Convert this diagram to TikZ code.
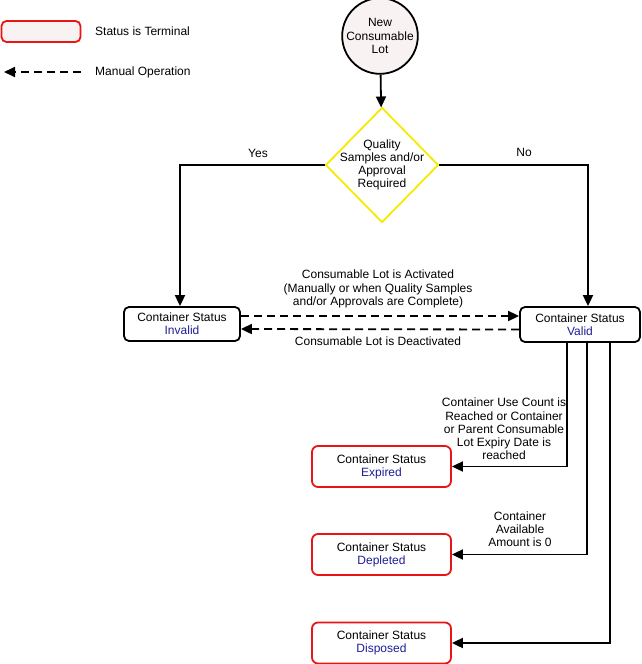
\documentclass[tikz,border=0pt]{standalone}
\usepackage{fontspec}
\setmainfont{Liberation Sans}
\usetikzlibrary{shapes.geometric,arrows.meta,calc}
\definecolor{termfill}{RGB}{248,242,242}
\definecolor{statblue}{RGB}{30,30,150}
\definecolor{diayellow}{RGB}{245,235,0}
\definecolor{termred}{RGB}{235,20,20}
\tikzset{
  every node/.style={font=\fontsize{12}{13.2}\selectfont, inner sep=0pt},
  statusbox/.style={draw=black, line width=1.8pt, rounded corners=5pt, fill=white, align=center},
  termbox/.style={draw=termred, line width=1.8pt, rounded corners=6pt, fill=white, align=center, minimum width=139pt, minimum height=41pt},
  flow/.style={line width=1.8pt, -{Triangle[length=11pt,width=10pt]}},
  manual/.style={line width=1.8pt, dash pattern=on 8pt off 5pt, -{Triangle[length=11pt,width=10pt]}},
  lbl/.style={align=center}
}
\begin{document}
\begin{tikzpicture}[x=1pt,y=-1pt]
\useasboundingbox (0,0) rectangle (642,664);
% legend
\node[draw=termred, line width=1.8pt, rounded corners=5pt, fill=termfill, minimum width=79pt, minimum height=21pt] (legbox) at (41,31.5) {};
\node[anchor=west] (legterm) at (95,31) {Status is Terminal};
\coordinate (legA) at (81,72);
\coordinate (legB) at (4,72);
\draw[manual] (legA) -- (legB);
\node[anchor=west] (legman) at (95,72) {Manual Operation};
% start
\node[circle, draw=black, line width=1.8pt, fill=termfill, minimum size=66pt, align=center] (start) at (380,36) {New\\Consumable\\Lot};
\node[diamond, draw=diayellow, line width=1.8pt, fill=white, minimum width=113pt, minimum height=115pt, label={[lbl]center:{Quality\\Samples and/or\\Approval\\Required}}] (dia) at (382,165) {};
\draw[flow] (start) -- (dia);
% status boxes
\node[statusbox, minimum width=116pt, minimum height=34pt] (inv) at (182,324) {Container Status\\\textcolor{statblue}{Invalid}};
\node[statusbox, minimum width=120pt, minimum height=35pt] (val) at (580,324.5) {Container Status\\\textcolor{statblue}{Valid}};
\draw[flow] (dia.west) -| ([xshift=-2pt]inv.north);
\draw[flow] (dia.east) -| ([xshift=8pt]val.north);
\node (yes) at (258,153) {Yes};
\node (no) at (524,152) {No};
% manual transitions
\draw[manual] ([yshift=8pt]inv.east) -- ([yshift=8.5pt]val.west);
\draw[manual] ([yshift=-5pt]val.west) -- ([yshift=-5pt]inv.east);
\node[lbl] (actlbl) at (378,289) {Consumable Lot is Activated\\(Manually or when Quality Samples\\and/or Approvals are Complete)};
\node (deactlbl) at (378,341) {Consumable Lot is Deactivated};
% terminal boxes
\node[termbox] (exp) at (381.5,466.5) {Container Status\\\textcolor{statblue}{Expired}};
\node[termbox] (dep) at (381.5,554.5) {Container Status\\\textcolor{statblue}{Depleted}};
\node[termbox] (dis) at (381.5,643) {Container Status\\\textcolor{statblue}{Disposed}};
\draw[flow] ([xshift=-13pt]val.south) |- (exp.east);
\draw[flow] ([xshift=7pt]val.south) |- (dep.east);
\draw[flow] ([xshift=30pt]val.south) |- (dis.east);
\node[lbl] (explbl) at (504,429) {Container Use Count is\\Reached or Container\\or Parent Consumable\\Lot Expiry Date is\\reached};
\node[lbl] (deplbl) at (520,529.5) {Container\\Available\\Amount is 0};
\end{tikzpicture}
\end{document}
